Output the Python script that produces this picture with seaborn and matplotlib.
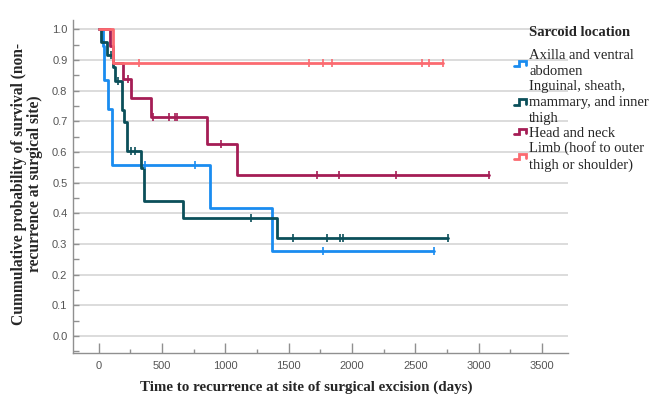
import numpy as np
import matplotlib
matplotlib.use("Agg")
import matplotlib.pyplot as plt
import seaborn as sns
from matplotlib.legend_handler import HandlerBase
from matplotlib.lines import Line2D
from matplotlib.ticker import MultipleLocator

# Kaplan-Meier steps (days, survival level)
axilla_t = [0, 30, 45, 76, 103, 878, 1365, 2649]
axilla_s = [1.0, 0.944, 0.833, 0.741, 0.556, 0.417, 0.278, 0.278]
axilla_ct = [365, 760, 1768, 2649]
axilla_cs = [0.556, 0.556, 0.278, 0.278]

inguinal_t = [0, 18, 63, 113, 129, 181, 202, 226, 331, 360, 668, 1405, 2754]
inguinal_s = [1.0, 0.959, 0.917, 0.876, 0.831, 0.737, 0.696, 0.602, 0.548, 0.439, 0.383, 0.318, 0.318]
inguinal_ct = [100, 155, 252, 284, 1202, 1531, 1804, 1904, 1931, 2754]
inguinal_cs = [0.917, 0.831, 0.602, 0.602, 0.383, 0.318, 0.318, 0.318, 0.318, 0.318]

head_t = [0, 88, 110, 190, 252, 410, 855, 1089, 3083]
head_s = [1.0, 0.944, 0.889, 0.836, 0.775, 0.713, 0.624, 0.524, 0.524]
head_ct = [234, 431, 557, 605, 620, 965, 1720, 1899, 2347, 3083]
head_cs = [0.836, 0.713, 0.713, 0.713, 0.713, 0.624, 0.524, 0.524, 0.524, 0.524]

limb_t = [0, 110, 2720]
limb_s = [1.0, 0.889, 0.889]
limb_ct = [318, 1660, 1768, 1844, 2552, 2610, 2720]
limb_cs = [0.889] * 7

labels = ["Axilla and ventral\nabdomen",
          "Inguinal, sheath,\nmammary, and inner\nthigh",
          "Head and neck",
          "Limb (hoof to outer\nthigh or shoulder)"]
colors = ["#1a8cf0", "#0b4f5a", "#a51d55", "#fb6a70"]

groups = [(axilla_t, axilla_s, axilla_ct, axilla_cs),
          (inguinal_t, inguinal_s, inguinal_ct, inguinal_cs),
          (head_t, head_s, head_ct, head_cs),
          (limb_t, limb_s, limb_ct, limb_cs)]

sns.set_style("white")
plt.rcParams['font.family'] = ['Liberation Serif', 'DejaVu Serif']


class StepHandler(HandlerBase):
    # little step icon like the SPSS legend
    def create_artists(self, legend, orig_handle, xdescent, ydescent,
                       width, height, fontsize, trans):
        x0 = -xdescent
        y0 = -ydescent + height / 2
        xs = x0 + width * np.array([0, 0.45, 0.45, 1.0, 1.0])
        ys = y0 + np.array([-2, -2, 2, 2, -1])
        ln = Line2D(xs, ys, color=orig_handle.get_color(), lw=2,
                    solid_joinstyle='miter', transform=trans)
        return [ln]


fig = plt.figure(figsize=(6.5, 3.99), dpi=100)
ax = fig.add_axes([73 / 650, 1 - 352.7 / 399, 495 / 650, 332.7 / 399])

handles = []
for (t, s, ct, cs), c, lab in zip(groups, colors, labels):
    sns.lineplot(x=t, y=s, drawstyle='steps-post', color=c, lw=2,
                 estimator=None, ax=ax, zorder=3)
    sns.scatterplot(x=ct, y=cs, marker='|', s=30, color=c, linewidth=1.2,
                    ax=ax, zorder=4)
    handles.append(Line2D([], [], color=c))

ax.set_xlim(-203, 3705)
ax.set_ylim(-0.055, 1.03)
ax.xaxis.set_major_locator(MultipleLocator(500))
ax.xaxis.set_minor_locator(MultipleLocator(250))
ax.yaxis.set_major_locator(MultipleLocator(0.1))
ax.yaxis.set_minor_locator(MultipleLocator(0.05))
ax.set_xticks(np.arange(0, 3501, 500))
ax.set_yticks(np.round(np.arange(0, 1.01, 0.1), 1))
ax.set_yticklabels([f"{v:.1f}" for v in np.arange(0, 1.01, 0.1)])

for lab in ax.get_xticklabels() + ax.get_yticklabels():
    lab.set_family(['Liberation Sans', 'DejaVu Sans'])
    lab.set_fontsize(8)
    lab.set_color('#555555')

ax.tick_params(axis='x', which='major', direction='in', length=7, width=1,
               color='#909090', pad=6, bottom=True)
ax.tick_params(axis='x', which='minor', direction='in', length=3, width=1,
               color='#909090', bottom=True)
ax.tick_params(axis='y', which='both', direction='in', length=4, width=1,
               color='#909090', pad=4, left=True)

ax.grid(axis='y', which='major', color='#d6d6d6', lw=1.2, zorder=0)
ax.set_axisbelow(True)
for side in ['top', 'right']:
    ax.spines[side].set_visible(False)
for side in ['left', 'bottom']:
    ax.spines[side].set_color('#909090')
    ax.spines[side].set_linewidth(1)

ax.set_xlabel("")
ax.set_ylabel("")
fig.text(306 / 650, 1 - 387 / 399,
         "Time to recurrence at site of surgical excision (days)",
         ha='center', va='center', fontsize=10.8, fontweight='bold')
fig.text(27 / 650, 1 - 184 / 399,
         "Cummulative probability of survival (non-\nrecurrence at surgical site)",
         ha='center', va='center', rotation=90, fontsize=11.2,
         fontweight='bold', multialignment='center', linespacing=1.0)

fig.text(529 / 650, 1 - 32.5 / 399, "Sarcoid location", ha='left', va='center',
         fontsize=10.5, fontweight='bold')
leg = ax.legend(handles, labels, handler_map={Line2D: StepHandler()},
                loc='upper left', bbox_to_anchor=(514 / 650, 1 - 49 / 399),
                bbox_transform=fig.transFigure, frameon=False, fontsize=10.5,
                handlelength=0.8, handletextpad=0.25, borderpad=0,
                borderaxespad=0, labelspacing=0.12)
for txt in leg.get_texts():
    txt.set_linespacing(1.3)

fig.savefig("out.png", dpi=100)
